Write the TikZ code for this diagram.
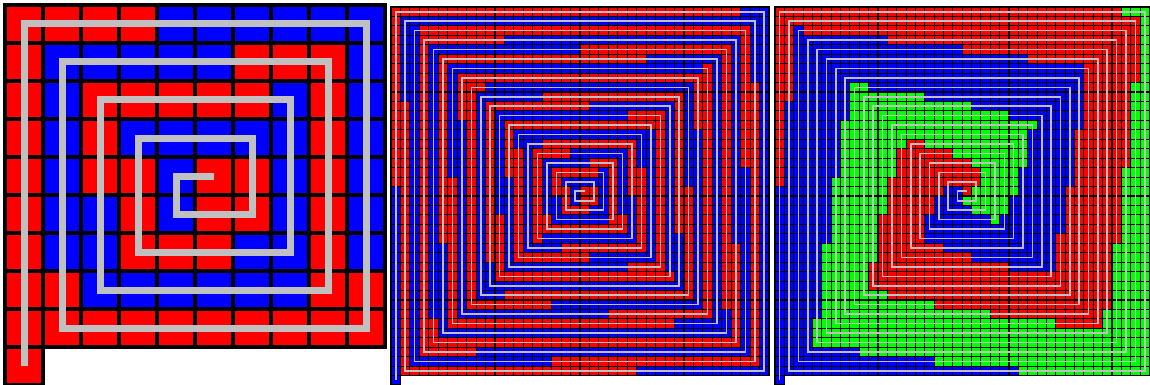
\documentclass[tikz,border=0pt]{standalone}
\definecolor{spred}{RGB}{255,0,0}
\definecolor{spblue}{RGB}{0,0,255}
\definecolor{spgreen}{RGB}{0,255,0}
\definecolor{trackgray}{RGB}{192,192,192}
\newcount\spx \newcount\spy \newcount\runno \newcount\runat \newcount\colno
% one cell of the board, coloured by its run along the spiral
\newcommand\cellstep[5]{%
  \ifcase\colno\def\cellcol{spred}\or\def\cellcol{spblue}\or\def\cellcol{spgreen}\fi
  \fill[\cellcol] ({#1+\the\spx*#3},{#2+\the\spy*#4}) rectangle ++(#3,#4);
  \global\advance\runat by 1
  \ifnum\runat=\runno
    \global\runat=0 \global\advance\runno by 1 \global\advance\colno by 1
    \ifnum\colno=#5 \global\colno=0 \fi
  \fi}
% x0, y0, cell width, cell height, N, colours, grid width, track width
\newcommand\spiralboard[8]{%
  \global\spx=\numexpr(#5+1)/2\relax \global\spy=\numexpr(#5-1)/2\relax
  \global\runno=1 \global\runat=0 \global\colno=0
  \cellstep{#1}{#2}{#3}{#4}{#6}
  \pgfmathtruncatemacro\segs{2*#5}
  \foreach \s in {1,...,\segs}{%
    \pgfmathtruncatemacro\L{(\s+1)/2}%
    \pgfmathtruncatemacro\d{mod(\s-1,4)}%
    \foreach \i in {1,...,\L}{%
      \ifcase\d\relax\global\advance\spx by -1 \or\global\advance\spy by 1 \or\global\advance\spx by 1 \or\global\advance\spy by -1 \fi
      \cellstep{#1}{#2}{#3}{#4}{#6}}}
  \pgfmathtruncatemacro\cols{#5+1}
  \foreach \i in {0,...,\cols}{\pgfmathtruncatemacro\depth{\i<2 ? #5+1 : #5}
    \draw[gridline,line width=#7] ({#1+\i*#3},#2) -- ++(0,{\depth*#4});}
  \foreach \j in {0,...,#5}\draw[gridline,line width=#7] (#1,{#2+\j*#4}) -- ++({\cols*#3},0);
  \draw[gridline,line width=#7] (#1,{#2+(#5+1)*#4}) -- ++(#3,0);
  \draw[track,line width=#8] ({#1+((#5+1)/2+0.5)*#3},{#2+((#5-1)/2+0.5)*#4})
    foreach \s [evaluate=\s as \L using {int((\s+1)/2)}, evaluate=\s as \a using {90*mod(\s-1,4)}] in {1,...,\segs}
    { -- ++({-\L*cos(\a)*#3},{\L*sin(\a)*#4}) };}

\begin{document}
\begin{tikzpicture}[x=1pt,y=-1pt, gridline/.style={draw=black,line cap=rect},
  track/.style={draw=trackgray}]
 \useasboundingbox (0,0) rectangle (1150,385);
 \fill[white] (0,0) rectangle (1150,385);
 \spiralboard{5}{5}{38}{38}{9}{2}{4pt}{7pt}
 \spiralboard{391}{7}{9.45}{9.45}{39}{2}{1.1pt}{1.6pt}
 \spiralboard{775}{7}{9.36}{9.45}{39}{3}{1.1pt}{1.6pt}
\end{tikzpicture}
\end{document}
